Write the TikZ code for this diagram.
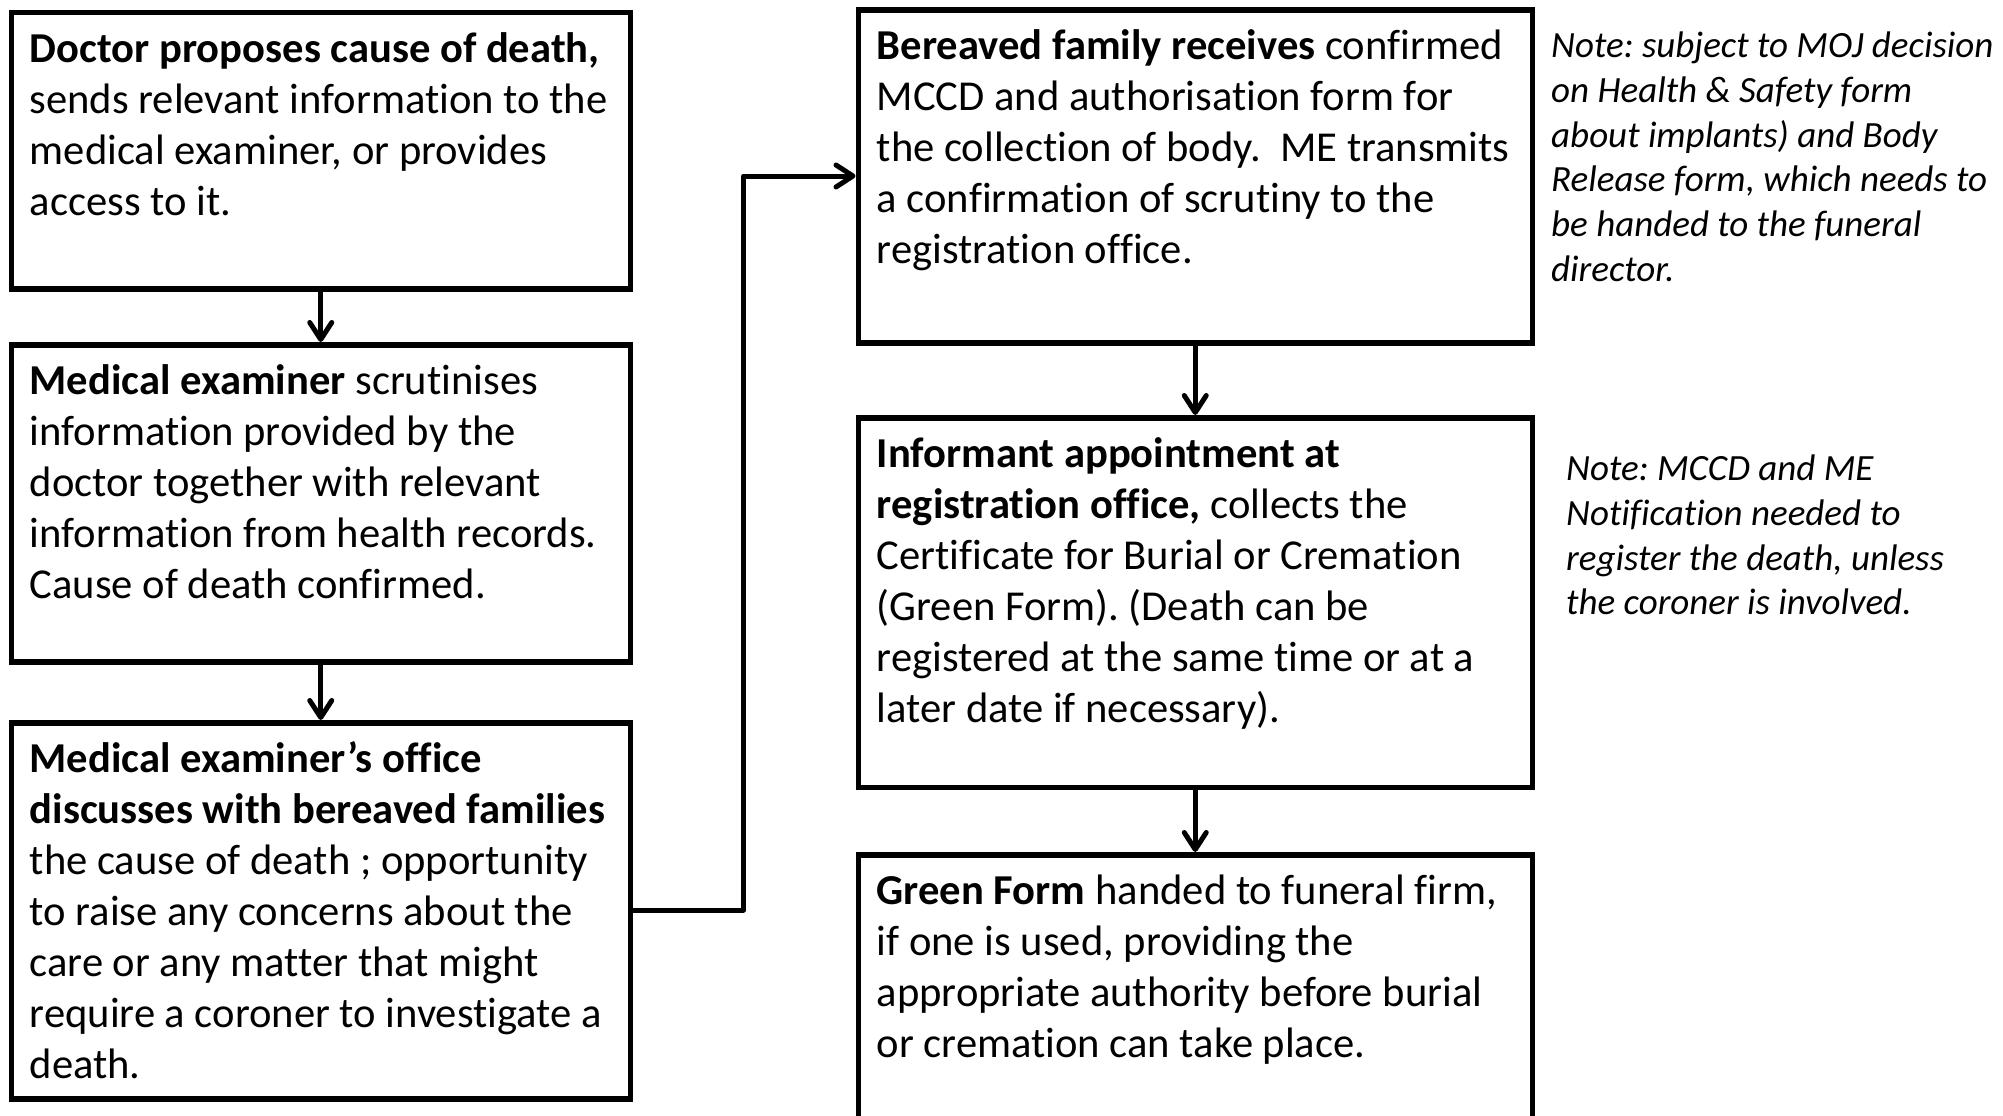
\documentclass[tikz,border=0pt]{standalone}
\usepackage{fontspec}
\setmainfont[Ligatures=NoCommon]{Carlito}
\usetikzlibrary{arrows.meta}
\frenchspacing
\newcommand\boxtxt[3]{\parbox[t][#2pt][t]{#1pt}{\raggedright\fontsize{42.6}{51}\selectfont\rule{0pt}{49.6pt}#3}}
\tikzset{
  stepbox/.style={draw, line width=5.5pt, inner xsep=18.5pt, inner ysep=0pt, anchor=north west, rectangle},
  conn/.style={line width=5pt, line cap=round, line join=round, -{Straight Barb[length=17pt,width=22pt,line width=5pt,round]}},
  note/.style={anchor=north west, inner sep=0pt, align=left, font=\fontsize{37}{44.7}\selectfont\itshape}
}
\begin{document}
\begin{tikzpicture}[x=1pt,y=-1pt]
\useasboundingbox (0,0) rectangle (2003,1116);
\clip (0,0) rectangle (2003,1116);
\node[stepbox] (b1) at (8.5,10) {\boxtxt{582}{276}{\textbf{Doctor proposes cause of death,}\\ sends relevant information to the\\ medical examiner, or provides\\ access to it.}};
\node[stepbox] (b2) at (8.5,342) {\boxtxt{582}{317}{\textbf{Medical examiner} scrutinises\\ information provided by the\\ doctor together with relevant\\ information from health records.\\ Cause of death confirmed.}};
\node[stepbox] (b3) at (8.5,720) {\boxtxt{582}{376}{\textbf{Medical examiner’s office}\\ \textbf{discusses with bereaved families}\\ the cause of death ; opportunity\\ to raise any concerns about the\\ care or any matter that might\\ require a coroner to investigate a\\ death.}};
\node[stepbox] (b4) at (855.5,7.5) {\boxtxt{637}{332.5}{\textbf{Bereaved family receives} confirmed\\ MCCD and authorisation form for\\ the collection of body.\ \ ME transmits\\ a confirmation of scrutiny to the\\ registration office.}};
\node[stepbox] (b5) at (855.5,415) {\boxtxt{637}{369.5}{\textbf{Informant appointment at}\\ \textbf{registration office,} collects the\\ Certificate for Burial or Cremation\\ (Green Form). (Death can be\\ registered at the same time or at a\\ later date if necessary).}};
\node[stepbox] (b6) at (855.5,852) {\boxtxt{637}{320}{\textbf{Green Form} handed to funeral firm,\\ if one is used, providing the\\ appropriate authority before burial\\ or cremation can take place.}};
\node[note] (n1) at (1551,32) {Note: subject to MOJ decision\\ on Health \& Safety form\\ about implants) and Body\\ Release form, which needs to\\ be handed to the funeral\\ director.};
\node[note] (n2) at (1566,455) {Note: MCCD and ME\\ Notification needed to\\ register the death, unless\\ the coroner is involved.};
\draw[conn] (b1.south) -- (b2.north);
\draw[conn] (b2.south) -- (b3.north);
\coordinate (e1) at (743.5,910);
\coordinate (e2) at (743.5,176);
\draw[conn] (b3.east |- e1) -- (e1) -- (e2) -- (b4.west |- e2);
\draw[conn] (b4.south) -- (b5.north);
\draw[conn] (b5.south) -- (b6.north);
\end{tikzpicture}
\end{document}
